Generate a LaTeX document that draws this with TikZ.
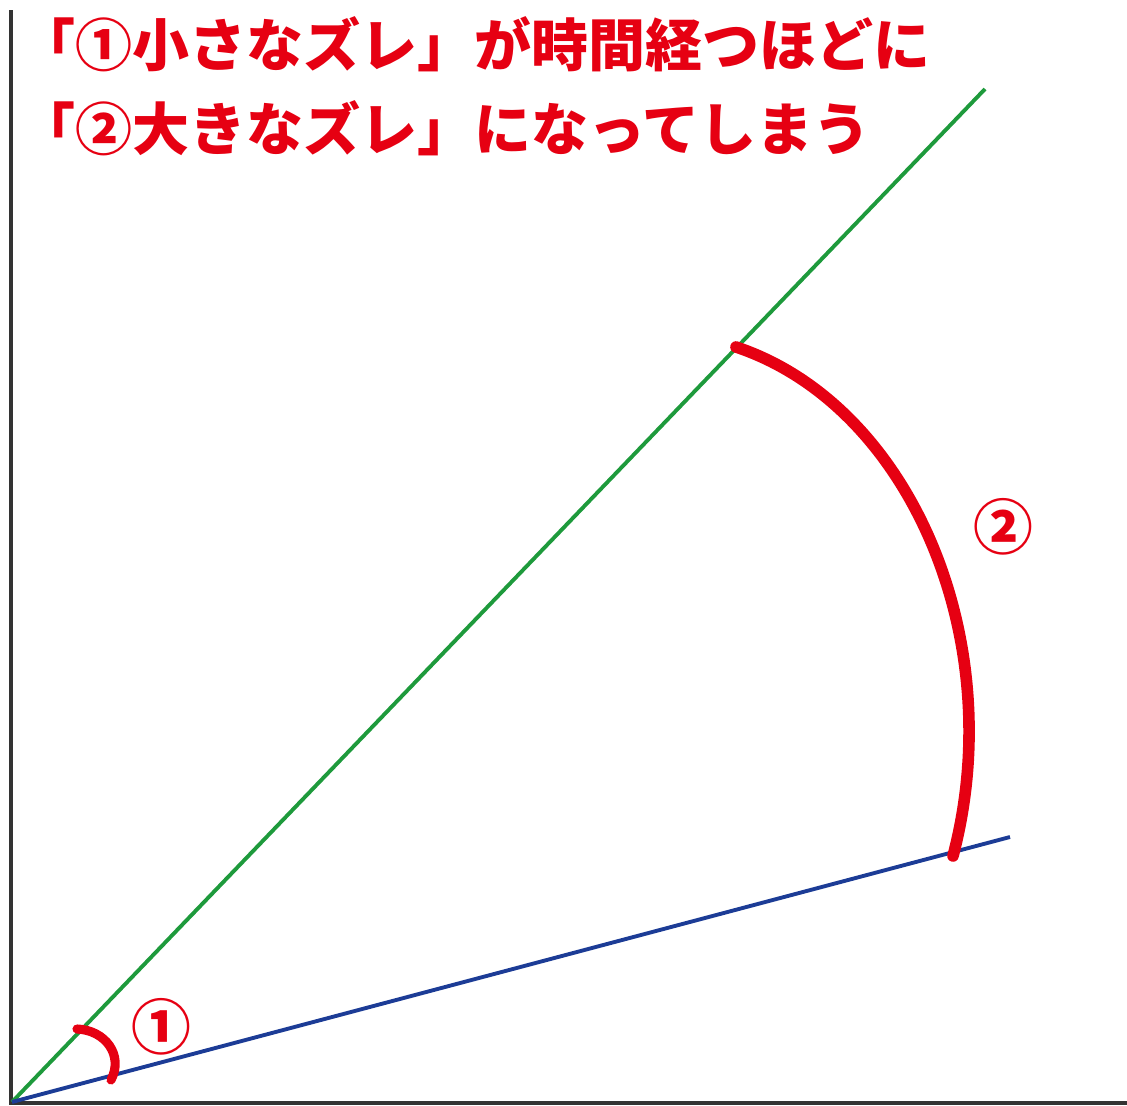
\documentclass[tikz,border=0pt]{standalone}
\usepackage{fontspec}
\newfontfamily\jpfont{Noto Sans CJK JP}
\definecolor{zurered}{HTML}{E60012}
\definecolor{linegreen}{HTML}{1E9A3C}
\definecolor{lineblue}{HTML}{1C3C96}
\definecolor{axisgray}{HTML}{333333}

\begin{document}
\begin{tikzpicture}[x=0.01cm,y=-0.01cm,
  axis/.style={draw=axisgray,line width=1.2pt},
  ray/.style={line width=1.1pt},
  zure/.style={draw=zurered,line cap=round},
  title/.style={anchor=base west,inner sep=0pt,text=zurered,
    font=\jpfont\bfseries\fontsize{16.2}{16.2}\selectfont},
  mark label/.style={inner sep=0pt,text=zurered,
    font=\jpfont\bfseries\fontsize{17}{17}\selectfont}]

\useasboundingbox (0,0) rectangle (1127,1106);

% Axes
\coordinate (top) at (11,10);
\coordinate (O) at (12,1102);
\coordinate (right) at (1127,1103);
\draw[axis] (top) -- (11,1103) -- (right);

% Two rays
\coordinate (gEnd) at (985,89);
\coordinate (bEnd) at (1010,837);
\draw[ray,linegreen] (O) -- (gEnd);
\draw[ray,lineblue] (O) -- (bEnd);

% Small gap
\coordinate (s1) at (77,1029);
\coordinate (s2) at (111,1080);
\draw[zure,line width=2.6pt] (s1) .. controls (105,1030) and (124,1055) .. (s2);
\node[mark label] (one) at (161,1027) {①};

% Large gap
\coordinate (l1) at (736,347);
\coordinate (l2) at (953,856);
\draw[zure,line width=3.3pt] (l1) .. controls (910,405) and (1010,640) .. (l2);
\node[mark label] (two) at (1003,527) {②};

% Title
\node[title] (line1) at (18,66) {「①小さなズレ」が時間経つほどに};
\node[title] (line2) at (18,150) {「②大きなズレ」になってしまう};

\end{tikzpicture}
\end{document}
